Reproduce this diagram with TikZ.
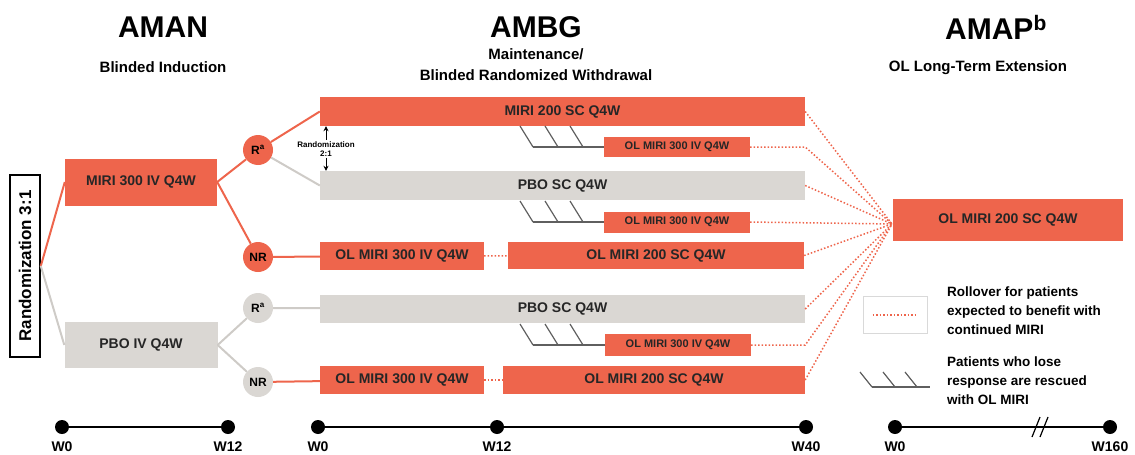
\documentclass[tikz,border=0pt]{standalone}
\usepackage{fontspec}
\setmainfont{Liberation Sans}
\usetikzlibrary{positioning}
\usetikzlibrary{arrows.meta}
\definecolor{miri}{RGB}{238,101,76}
\definecolor{pbo}{RGB}{218,215,211}
\definecolor{pboline}{RGB}{206,203,199}
\definecolor{rescue}{RGB}{95,95,95}

\begin{document}
\begin{tikzpicture}[x=1pt,y=-1pt]
    \tikzset{
      arm/.style={inner sep=0pt, text=black!85, font=\bfseries\fontsize{14}{16}\selectfont},
      red arm/.style={arm, fill=miri},
      grey arm/.style={arm, fill=pbo},
      small arm/.style={red arm, font=\bfseries\fontsize{11}{13}\selectfont},
      resp/.style={circle, minimum size=30pt, inner sep=0pt, font=\bfseries\fontsize{12}{13}\selectfont},
      red line/.style={miri, line width=2pt},
      grey line/.style={pboline, line width=2pt},
      rollover/.style={miri, line width=1.5pt, dotted},
      rescue line/.style={rescue, line width=1.2pt},
      head/.style={font=\bfseries\fontsize{30}{32}\selectfont},
      subhead/.style={font=\bfseries\fontsize{15}{21}\selectfont, align=center},
      legend text/.style={font=\bfseries\fontsize{13.5}{19}\selectfont, align=left, inner sep=0pt, anchor=west},
      week/.style={circle, fill=black, minimum size=14pt, inner sep=0pt},
      wk/.style={font=\bfseries\fontsize{14}{16}\selectfont, inner sep=0pt, label distance=7pt},
    }
    \useasboundingbox (0,0) rectangle (1135,455);

    % study headers
    \node[head] (aman) at (163,27) {AMAN};
    \node[subhead] (amanSub) at (163,67) {Blinded Induction};
    \node[head] (ambg) at (536,27) {AMBG};
    \node[subhead] (ambgSub) at (536,65) {Maintenance/\\Blinded Randomized Withdrawal};
    \node[head] (amap) at (996,27) {AMAP\textsuperscript{b}};
    \node[subhead] (amapSub) at (978,68) {OL Long-Term Extension};

    % induction
    \node[draw, line width=1.6pt, rotate=90, minimum width=182pt, minimum height=30pt,
          inner sep=0pt, font=\bfseries\fontsize{17}{20}\selectfont] (rand) at (25,266) {Randomization 3:1};
    \node[red arm, minimum width=152pt, minimum height=47pt] (miriIV) at (141,182) {MIRI 300 IV Q4W};
    \node[grey arm, minimum width=153pt, minimum height=46pt] (pboIV) at (141,345) {PBO IV Q4W};

    \node[resp, fill=miri] (rA) at (258,150) {R\textsuperscript{a}};
    \node[resp, fill=miri] (nrA) at (258,257) {NR};
    \node[resp, fill=pbo] (rB) at (258,308) {R\textsuperscript{a}};
    \node[resp, fill=pbo] (nrB) at (258,382) {NR};

    % maintenance
    \node[red arm, minimum width=485pt, minimum height=29pt] (miriSC) at (562.5,111.5) {MIRI 200 SC Q4W};
    \node[grey arm, minimum width=485pt, minimum height=29pt] (pboSC1) at (562.5,185.5) {PBO SC Q4W};
    \node[small arm, minimum width=146pt, minimum height=20pt] (olA) at (677,147) {OL MIRI 300 IV Q4W};
    \node[small arm, minimum width=146pt, minimum height=21pt] (olB) at (677,222) {OL MIRI 300 IV Q4W};
    \node[red arm, minimum width=164pt, minimum height=28pt] (olIV1) at (402,256) {OL MIRI 300 IV Q4W};
    \node[red arm, minimum width=296pt, minimum height=27pt] (olSC1) at (656,255.5) {OL MIRI 200 SC Q4W};
    \node[grey arm, minimum width=485pt, minimum height=28pt] (pboSC2) at (562.5,309) {PBO SC Q4W};
    \node[small arm, minimum width=146pt, minimum height=22pt] (olC) at (678,345) {OL MIRI 300 IV Q4W};
    \node[red arm, minimum width=164pt, minimum height=28pt] (olIV2) at (402,380) {OL MIRI 300 IV Q4W};
    \node[red arm, minimum width=302pt, minimum height=28pt] (olSC2) at (654,380) {OL MIRI 200 SC Q4W};

    \node[font=\bfseries\fontsize{8}{9.5}\selectfont, align=center, inner sep=1pt] (rz) at (326,149) {Randomization\\2:1};
    \draw[-{Stealth[length=5pt,width=5pt]}, line width=0.8pt] (rz.north) -- (rz.north |- miriSC.south);
    \draw[-{Stealth[length=5pt,width=5pt]}, line width=0.8pt] (rz.south) -- (rz.south |- pboSC1.north);

    % extension
    \node[red arm, minimum width=230pt, minimum height=42pt] (ext) at (1008,220) {OL MIRI 200 SC Q4W};
    \coordinate (conv) at (892,224);

    \draw[red line] (rand.south) -- (miriIV.west);
    \draw[grey line] (rand.south) -- (pboIV.west);
    \draw[red line] (miriIV.east) -- (rA);
    \draw[red line] (miriIV.east) -- (nrA);
    \draw[grey line] (pboIV.east) -- (rB);
    \draw[grey line] (pboIV.east) -- (nrB);
    \draw[red line] (rA) -- (miriSC.west);
    \draw[grey line] (rA) -- (pboSC1.west);
    \draw[red line] (nrA) -- (olIV1);
    \draw[grey line] (rB) -- (pboSC2);
    \draw[red line] (nrB) -- (olIV2);
    \draw[rollover] (olIV1) -- (olSC1);
    \draw[rollover] (olIV2) -- (olSC2);

    \foreach \n in {miriSC, pboSC1, olB, olSC1, pboSC2, olSC2}
      \draw[rollover] (\n.east) -- (conv);
    \foreach \n in {olA, olC}
      \draw[rollover] (\n.east) -- (\n.east -| miriSC.east) -- (conv);

    % lost response -> rescue
    \foreach \y/\tgt in {147/olA, 222/olB, 345/olC} {
      \coordinate (hook) at (533,\y);
      \foreach \dx in {0,25,50}
        \draw[rescue line] (hook) ++(\dx,0) -- ++(-13,-21);
      \draw[rescue line] (hook) -- (\tgt.west);
    }

    % legend
    \node[draw=black!15, line width=1pt, minimum width=64pt, minimum height=37pt] (legRoll) at (895,315) {};
    \draw[rollover] ([xshift=10pt]legRoll.west) -- ([xshift=-10pt]legRoll.east);
    \node[legend text] (legRollText) at (947,311) {Rollover for patients\\expected to benefit with\\continued MIRI};
    \coordinate (legHook) at (872,387);
    \foreach \dx in {0,23,45}
      \draw[rescue line] (legHook) ++(\dx,0) -- ++(-12,-15);
    \draw[rescue line] (legHook) -- ++(58,0);
    \node[legend text] (legRescueText) at (947,381) {Patients who lose\\response are rescued\\with OL MIRI};

    % timelines
    \node[week, label={[wk]below:W0}] (a0) at (62,427) {};
    \node[week, label={[wk]below:W12}] (a12) at (228,427) {};
    \node[week, label={[wk]below:W0}] (b0) at (318,427) {};
    \node[week, label={[wk]below:W12}] (b12) at (497,427) {};
    \node[week, label={[wk]below:W40}] (b40) at (806,427) {};
    \node[week, label={[wk]below:W0}] (c0) at (895,427) {};
    \node[week, label={[wk]below:W160}] (c160) at (1110,427) {};
    \draw[line width=1.2pt] (a0) -- (a12);
    \draw[line width=1.2pt] (b0) -- (b12) -- (b40);
    \draw[line width=1.2pt] (c0) -- (c160);
    \coordinate (brk) at (1040,427);
    \draw[line width=1.2pt] (brk) ++(-8,10) -- ++(8,-20);
    \draw[line width=1.2pt] (brk) ++(0,10) -- ++(8,-20);
\end{tikzpicture}
\end{document}
